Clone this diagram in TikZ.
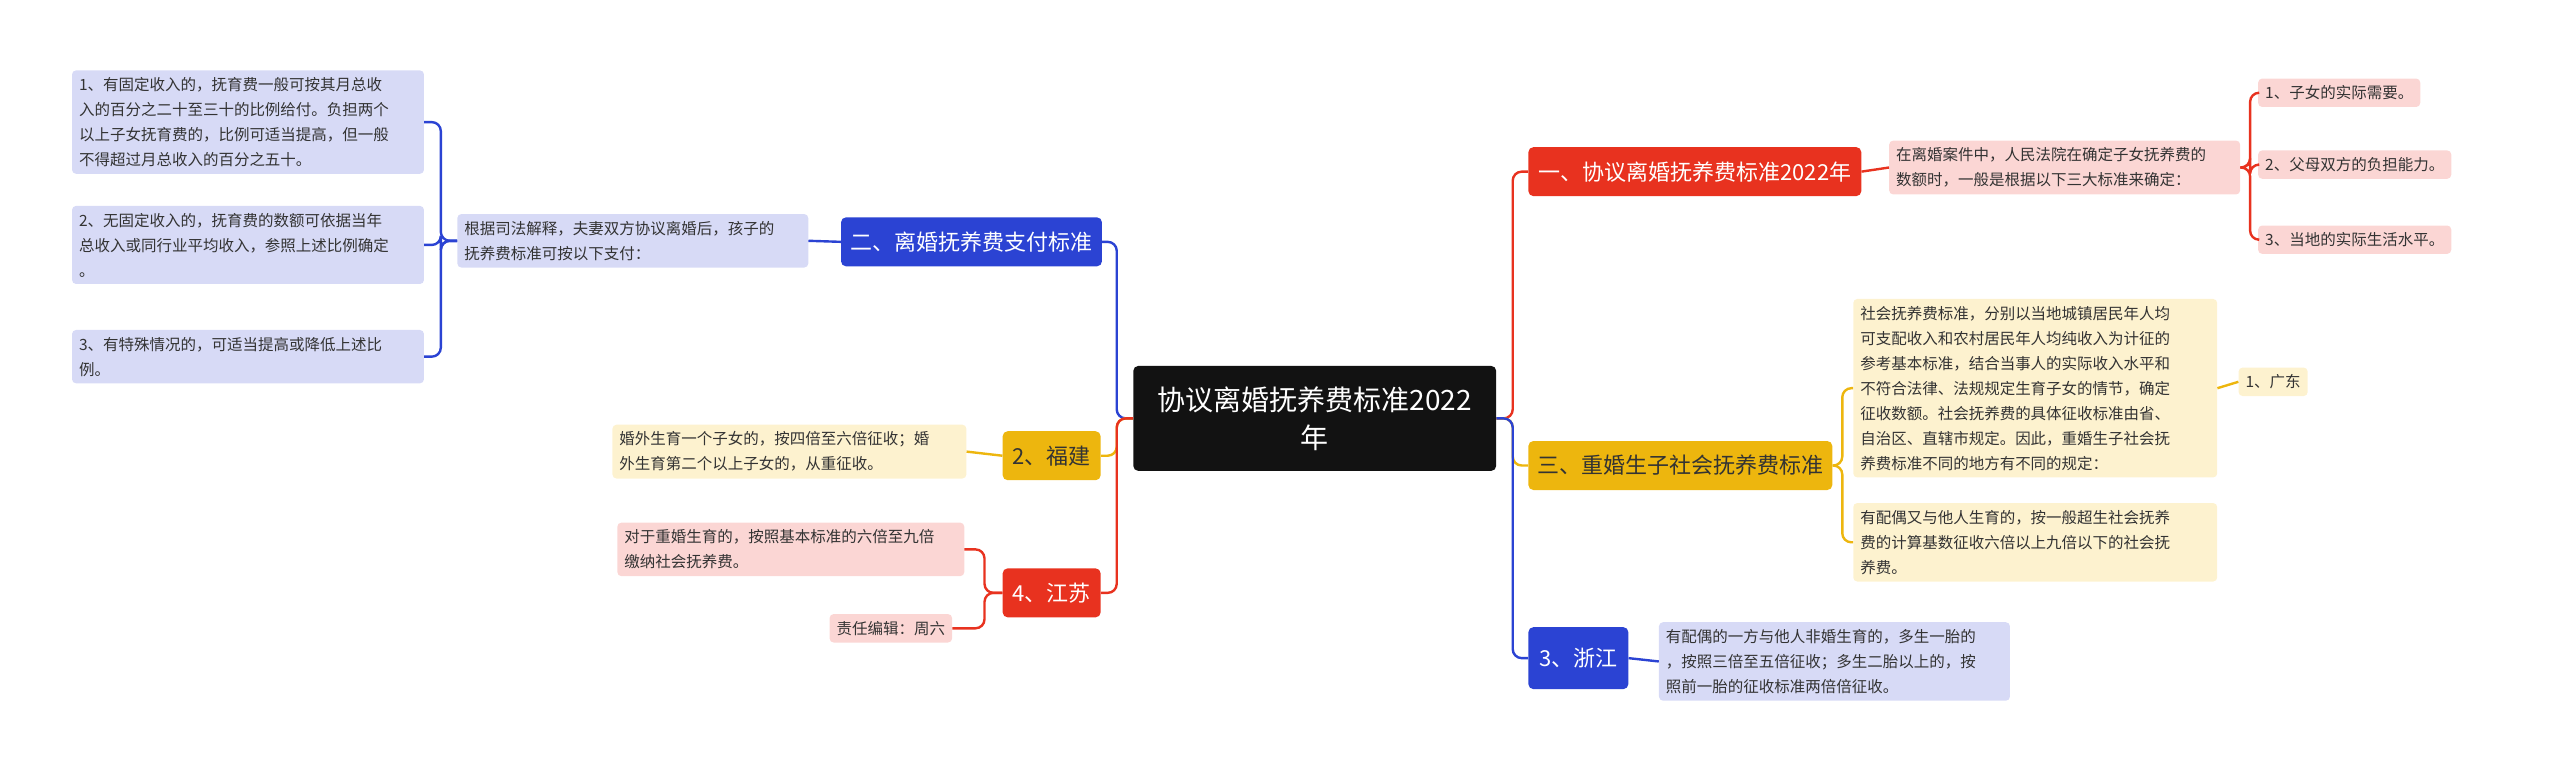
\documentclass[tikz,border=0pt]{standalone}
\usepackage{fontspec}
\setmainfont{Noto Sans CJK SC}
\definecolor{cR}{HTML}{E8321F}
\definecolor{cB}{HTML}{2B43D3}
\definecolor{cY}{HTML}{EDB60E}
\definecolor{fR}{HTML}{FBD6D4}
\definecolor{fB}{HTML}{D7DAF6}
\definecolor{fY}{HTML}{FDF2CF}
\definecolor{tx}{HTML}{333333}
\tikzset{
 leaf/.style={rounded corners=4pt,inner xsep=7pt,inner ysep=7pt,align=left,anchor=north west,font=\fontsize{15.5}{25}\selectfont,text=tx},
 lR/.style={leaf,fill=fR},lB/.style={leaf,fill=fB},lY/.style={leaf,fill=fY},
 br/.style={rounded corners=5pt,anchor=north west,font=\fontsize{22}{28}\selectfont,inner sep=0pt,align=center},
 ln/.style={line width=2.4pt,rounded corners=9pt},
}
\begin{document}
\begin{tikzpicture}[x=1.633pt,y=-1.633pt]
\useasboundingbox (0,0) rectangle (1568,476);
% center
\node[rounded corners=5pt,fill=black!93,text=white,font=\fontsize{28}{38}\selectfont,align=center,minimum width=363pt,minimum height=105pt,anchor=north west] (c) at (694,224) {协议离婚抚养费标准2022\\年};
% right branches
\node[br,fill=cR,text=white,minimum width=333pt,minimum height=49pt] (b1) at (936,90) {一、协议离婚抚养费标准2022年};
\node[br,fill=cY,text=tx,minimum width=304pt,minimum height=49pt] (b3) at (936,270) {三、重婚生子社会抚养费标准};
\node[br,fill=cB,text=white,minimum width=100pt,minimum height=62pt] (b5) at (936,384) {3、浙江};
% left branches
\node[br,fill=cB,text=white,minimum width=261pt,minimum height=49pt] (b2) at (515,133) {二、离婚抚养费支付标准};
\node[br,fill=cY,text=tx,minimum width=98pt,minimum height=49pt] (b4) at (614,264) {2、福建};
\node[br,fill=cR,text=white,minimum width=98pt,minimum height=49pt] (b6) at (614,348) {4、江苏};
% right leaves
\node[lR,text width=337pt] (r1) at (1157,86) {在离婚案件中，人民法院在确定子女抚养费的\\数额时，一般是根据以下三大标准来确定：};
\node[lR] (r11) at (1383,48) {1、子女的实际需要。};
\node[lR] (r12) at (1383,92) {2、父母双方的负担能力。};
\node[lR] (r13) at (1383,138) {3、当地的实际生活水平。};
\node[lY,text width=350pt] (y1) at (1135,183) {社会抚养费标准，分别以当地城镇居民年人均\\可支配收入和农村居民年人均纯收入为计征的\\参考基本标准，结合当事人的实际收入水平和\\不符合法律、法规规定生育子女的情节，确定\\征收数额。社会抚养费的具体征收标准由省、\\自治区、直辖市规定。因此，重婚生子社会抚\\养费标准不同的地方有不同的规定：};
\node[lY] (y11) at (1371,225) {1、广东};
\node[lY,text width=350pt] (y2) at (1135,308) {有配偶又与他人生育的，按一般超生社会抚养\\费的计算基数征收六倍以上九倍以下的社会抚\\养费。};
\node[lB,text width=337pt] (z1) at (1016,381) {有配偶的一方与他人非婚生育的，多生一胎的\\，按照三倍至五倍征收；多生二胎以上的，按\\照前一胎的征收标准两倍倍征收。};
% left leaves
\node[lB,text width=337pt] (d2) at (280,131) {根据司法解释，夫妻双方协议离婚后，孩子的\\抚养费标准可按以下支付：};
\node[lB,text width=338pt] (i1) at (44,43) {1、有固定收入的，抚育费一般可按其月总收\\入的百分之二十至三十的比例给付。负担两个\\以上子女抚育费的，比例可适当提高，但一般\\不得超过月总收入的百分之五十。};
\node[lB,text width=338pt] (i2) at (44,126) {2、无固定收入的，抚育费的数额可依据当年\\总收入或同行业平均收入，参照上述比例确定\\。};
\node[lB,text width=338pt] (i3) at (44,202) {3、有特殊情况的，可适当提高或降低上述比\\例。};
\node[lY,text width=340pt] (d4) at (375,260) {婚外生育一个子女的，按四倍至六倍征收；婚\\外生育第二个以上子女的，从重征收。};
\node[lR,text width=333pt] (d6) at (378,320) {对于重婚生育的，按照基本标准的六倍至九倍\\缴纳社会抚养费。};
\node[lR] (d7) at (508,376) {责任编辑：周六};
% connectors
\draw[ln,cR] (c.east) -- ++(10,0) |- (b1.west);
\draw[ln,cY] (c.east) -- ++(10,0) |- (b3.west);
\draw[ln,cB] (c.east) -- ++(10,0) |- (b5.west);
\draw[ln,cB] (c.west) -- ++(-10,0) |- (b2.east);
\draw[ln,cY] (c.west) -- ++(-10,0) |- (b4.east);
\draw[ln,cR] (c.west) -- ++(-10,0) |- (b6.east);
\draw[ln,cR] (b1.east) -- (r1.west);
\foreach \t in {r11,r12,r13}{\draw[ln,cR] (r1.east) -- ++(6,0) |- (\t.west);}
\foreach \t in {y1,y2}{\draw[ln,cY] (b3.east) -- ++(6,0) |- (\t.west);}
\draw[ln,cY] (y1.east) -- (y11.west);
\draw[ln,cB] (b5.east) -- (z1.west);
\draw[ln,cB] (b2.west) -- (d2.east);
\foreach \t in {i1,i2,i3}{\draw[ln,cB] (d2.west) -- ++(-10,0) |- (\t.east);}
\draw[ln,cY] (b4.west) -- (d4.east);
\foreach \t in {d6,d7}{\draw[ln,cR] (b6.west) -- ++(-11,0) |- (\t.east);}
\end{tikzpicture}
\end{document}
